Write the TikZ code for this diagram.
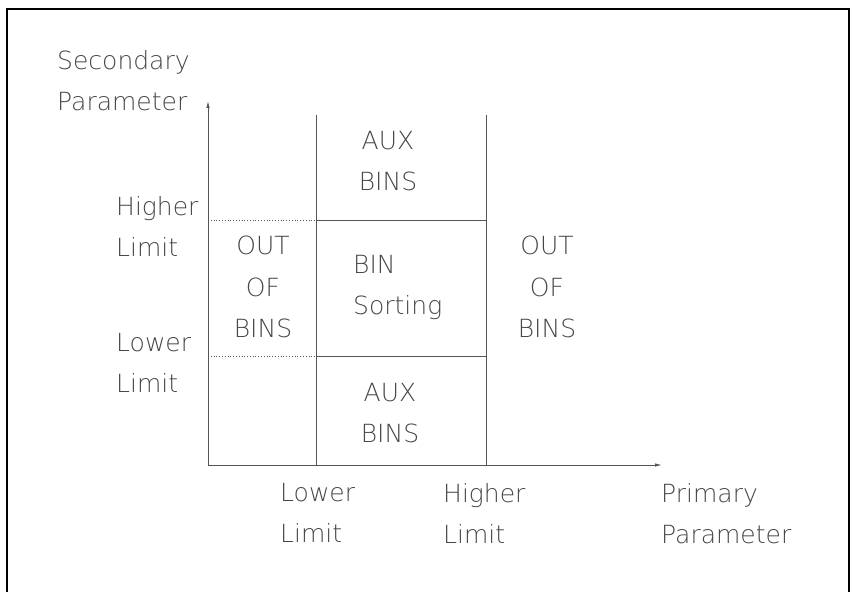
\documentclass[tikz,border=0pt]{standalone}
\usepackage{fontspec}
\IfFontExistsTF{DejaVuSans-ExtraLight.ttf}
  {\setmainfont{DejaVuSans-ExtraLight.ttf}}
  {\setmainfont{DejaVu Sans}}
\usetikzlibrary{arrows.meta}
\definecolor{PlotLine}{RGB}{85,85,85}
\definecolor{PlotText}{RGB}{70,70,70}

\begin{document}
\begin{tikzpicture}[
    x=1bp,
    y=-1bp,
    font=\fontsize{25bp}{41.5bp}\selectfont,
    >={Latex[length=7bp,width=3.5bp]},
    axistext/.style={
        text=PlotText,
        inner sep=0pt,
        align=left,
        anchor=north west
    },
    regiontext/.style={
        text=PlotText,
        inner sep=0pt,
        align=center,
        anchor=north
    },
    axis/.style={
        ->,
        draw=PlotLine,
        line width=0.9bp
    },
    limit/.style={
        draw=PlotLine,
        line width=0.9bp
    },
    guide/.style={
        draw=PlotLine,
        line width=0.8bp,
        dotted
    }
]
\useasboundingbox (0,0) rectangle (852,592);

% =========================
% Frame
% =========================
\draw[line width=2.6bp] (7,592) -- (7,9) -- (849,9) -- (849,592);

% =========================
% Axes and limit lines
% =========================
\coordinate (origin) at (208,465);
\coordinate (ytip)   at (208,101);
\coordinate (xtip)   at (662,465);
\coordinate (lowtop)  at (316,115);
\coordinate (lowbot)  at (316,465);
\coordinate (hightop) at (486,115);
\coordinate (highbot) at (486,465);
\coordinate (uplow)   at (316,220);
\coordinate (uphigh)  at (486,220);
\coordinate (dnlow)   at (316,356);
\coordinate (dnhigh)  at (486,356);
\coordinate (upaxis)  at (208,220);
\coordinate (dnaxis)  at (208,356);

\draw[axis] (origin) -- (ytip);
\draw[axis] (origin) -- (xtip);
\draw[limit] (lowtop) -- (lowbot);
\draw[limit] (hightop) -- (highbot);
\draw[limit] (uplow) -- (uphigh);
\draw[limit] (dnlow) -- (dnhigh);
\draw[guide] (upaxis) -- (uplow);
\draw[guide] (dnaxis) -- (dnlow);

% =========================
% Axis labels
% =========================
\node[axistext] (secondary) at (57,50)  {Secondary\\Parameter};
\node[axistext] (yhigher)   at (116,196) {Higher\\Limit};
\node[axistext] (ylower)    at (116,333) {Lower\\Limit};
\node[axistext] (xlower)    at (280,483) {Lower\\Limit};
\node[axistext] (xhigher)   at (443,483) {Higher\\Limit};
\node[axistext] (primary)   at (661,483) {Primary\\Parameter};

% =========================
% Regions
% =========================
\node[regiontext] (auxtop)   at (388,131) {AUX\\BINS};
\node[regiontext] (outleft)  at (263,236) {OUT\\OF\\BINS};
\node[axistext]   (sorting)  at (353,255) {BIN\\Sorting};
\node[regiontext] (outright) at (547,236) {OUT\\OF\\BINS};
\node[regiontext] (auxbot)   at (390,383) {AUX\\BINS};

\end{tikzpicture}
\end{document}
